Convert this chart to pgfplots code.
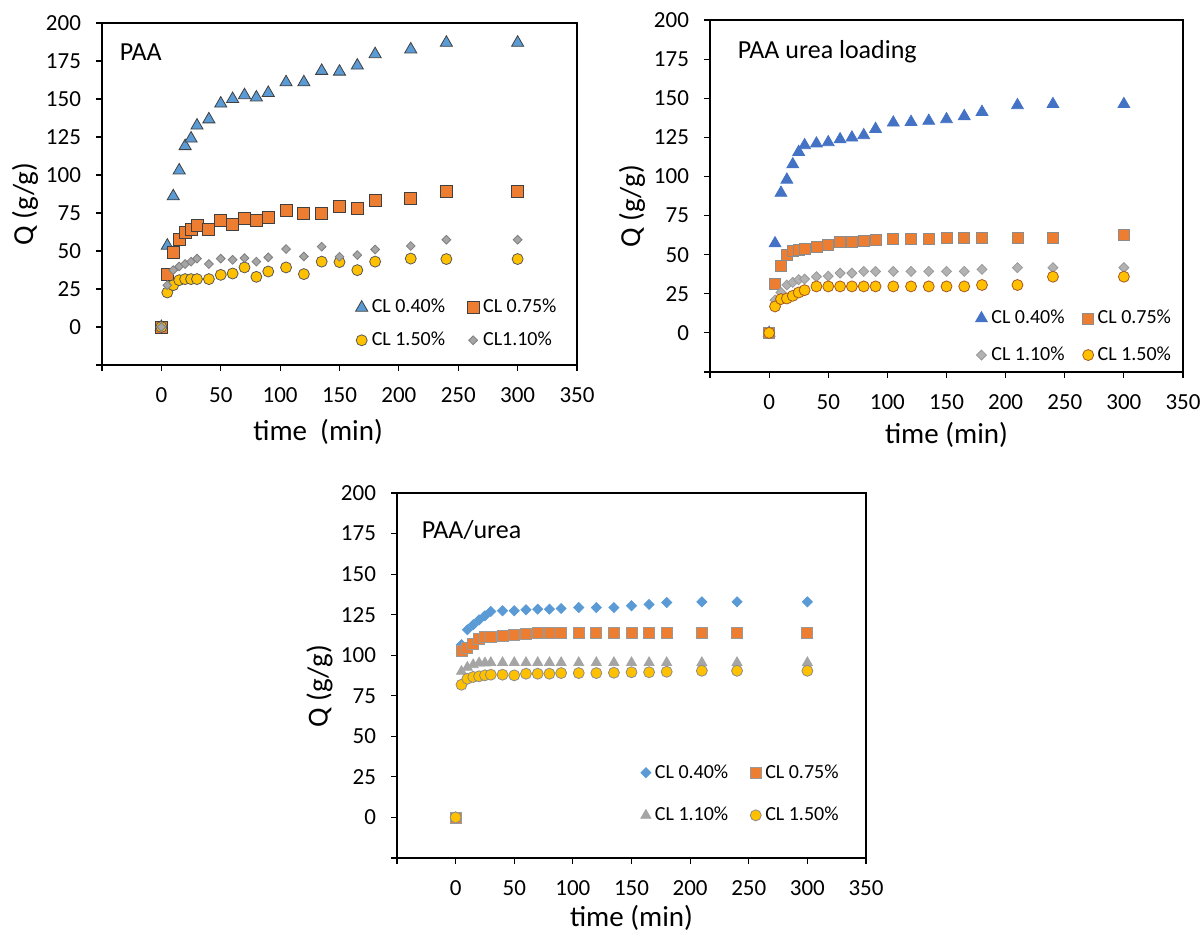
\documentclass[border=0pt]{standalone}
\usepackage{fontspec}
\setmainfont{Carlito}
\usepackage{pgfplots}
\usepackage{pgfplotstable}
\pgfplotsset{compat=1.18}
\definecolor{cblue}{HTML}{5B9BD5}
\definecolor{cdblue}{HTML}{4472C4}
\definecolor{corange}{HTML}{ED7D31}
\definecolor{cgray}{HTML}{A5A5A5}
\definecolor{cgold}{HTML}{FFC000}

\pgfplotstableread{
t a b c d
0 0 0 0 0
5 53.5 34.8 22.7 27.5
10 86 49 27.5 37.4
15 103 57.4 30.8 39.8
20 119 62 31.5 41.4
25 124 64.4 31.5 43
30 132.5 66.7 31.5 45
40 136.6 64.4 31.5 41.4
50 147 70 34.3 45
60 150 67.8 35.2 44.2
70 152.5 71.5 39.2 45.3
80 151 70 33 43
90 154 72 36.5 45.8
105 161 76.6 39.2 51.3
120 161 74.8 34.8 46.4
135 168.5 74.8 43 52.8
150 168 79.4 42.7 46.2
165 172 78 37.4 47.3
180 179.5 83.6 43 51
210 182.6 84.7 45 53.3
240 187 89.3 44.7 57.4
300 187 89.3 44.7 57.4
}\tabA

\pgfplotstableread{
t a b c d
0 0 0 0 0
5 57.2 31.6 21 16.9
10 89.5 42.5 25.8 21.6
15 97.9 49.8 30.6 22
20 107.7 52.6 32.3 23.7
25 115.6 53.2 34 25.8
30 119.9 54 34.4 27.3
40 121 55.1 35.9 29.7
50 121.8 56.2 36.3 29.7
60 123.7 57.9 38.2 29.7
70 124.8 57.9 38.2 29.7
80 126.3 58.5 39.3 29.7
90 130.3 59.2 39.3 29.7
105 134.4 59.8 39.3 29.7
120 134.8 59.8 39.3 29.7
135 135.5 59.8 39.3 29.7
150 136.5 60.9 39.3 29.7
165 138.5 60.9 39.3 29.7
180 141.2 60.9 40.6 30.6
210 145.5 60.9 41.7 30.6
240 146.2 60.9 41.7 35.9
300 146.2 62.6 41.7 35.9
}\tabB

\pgfplotstableread{
t a b c d
0 0 0 0 0
5 106.5 102.4 90 81.8
10 115.7 104.4 92.5 85.5
15 118.8 106.9 94.1 86.6
20 121.8 110.2 95.2 87
25 124.3 111 95.2 87.6
30 127 111.6 95.4 88
40 127.4 112 95.4 88
50 127.4 112.6 95.4 87.6
60 128 113.2 95.4 88.6
70 128.4 113.6 95.4 88.6
80 128.4 114 95.4 88.6
90 128.8 114 95.4 89
105 129.4 114 95.4 89
120 129.4 114 95.4 89
135 129.4 114 95.4 89.2
150 130.5 114 95.4 89.5
165 131.3 114 95.4 89.5
180 132.5 114 95.4 89.8
210 132.9 114 95.4 90.4
240 132.9 114 95.4 90.4
300 132.9 114 95.4 90.4
}\tabC

\pgfplotsset{
  myaxis/.style={
    scale only axis,
    xmin=-50, xmax=350, ymin=-25, ymax=200,
    xtick={-50,0,50,...,350}, xticklabels={,0,50,100,150,200,250,300,350},
    ytick={-25,0,25,...,200}, yticklabels={,0,25,50,75,100,125,150,175,200},
    tick align=outside, tick pos=left, major tick length=3pt,
    tick style={black, line width=0.6pt},
    axis line style={line width=0.6pt},
    ticklabel style={font=\fontsize{11.5}{13}\selectfont},
    xticklabel style={yshift=-5pt},
    yticklabel style={xshift=-4pt},
    label style={font=\fontsize{14.5}{17}\selectfont},
    legend columns=2,
    legend cell align=left,
    legend style={draw=none, fill=none, inner sep=0pt,
      font=\fontsize{10}{12}\selectfont},
    clip=false,
  },
  pt/.style={only marks, mark options={line width=0.4pt},
    legend image code/.code={\draw[##1] plot coordinates {(0pt,0pt)};}},
}

\begin{document}
\begin{tikzpicture}
% ---------- Panel 1: PAA ----------
\begin{axis}[myaxis, at={(51pt,283.5pt)}, anchor=south west,
  width=237.5pt, height=171pt,
  xlabel={time\ \ (min)}, ylabel={Q (g/g)},
  xlabel style={at={(axis description cs:0.455,-0.196)}, anchor=center},
  ylabel style={at={(axis description cs:-0.162,0.47)}, anchor=center},
  legend style={at={(axis description cs:0.966,0.035)}, anchor=south east,
    /tikz/row sep=4pt, /tikz/every even column/.append style={column sep=9pt}}]
\addplot[pt, mark=triangle*, mark size=3.5pt, mark options={fill=cblue, draw=black!75}] table[x=t,y=a]{\tabA};
\addlegendentry{CL 0.40\%}
\addplot[pt, mark=square*, mark size=3pt, mark options={fill=corange, draw=black!75}] table[x=t,y=b]{\tabA};
\addlegendentry{CL 0.75\%}
\addplot[pt, mark=*, mark size=2.75pt, mark options={fill=cgold, draw=black!65}] table[x=t,y=c]{\tabA};
\addlegendentry{CL 1.50\%}
\addplot[pt, mark=square*, mark size=1.55pt, mark options={rotate=45, fill=cgray, draw=black!50}] table[x=t,y=d]{\tabA};
\addlegendentry{CL1.10\%}
\node[anchor=west, font=\fontsize{13}{15}\selectfont] at (axis description cs:0.023,0.915) {PAA};
\end{axis}

% ---------- Panel 2: PAA urea loading ----------
\begin{axis}[myaxis, at={(355pt,280pt)}, anchor=south west,
  width=236.5pt, height=176pt,
  xlabel={time (min)}, ylabel={Q (g/g)},
  xlabel style={at={(axis description cs:0.5,-0.179)}, anchor=center},
  ylabel style={at={(axis description cs:-0.165,0.47)}, anchor=center},
  legend style={at={(axis description cs:0.984,0.012)}, anchor=south east,
    /tikz/row sep=6pt, /tikz/every even column/.append style={column sep=7pt}}]
\addplot[pt, mark=triangle*, mark size=3.4pt, mark options={fill=cdblue, draw=cdblue}] table[x=t,y=a]{\tabB};
\addlegendentry{CL 0.40\%}
\addplot[pt, mark=square*, mark size=2.75pt, mark options={fill=corange, draw=black!45}] table[x=t,y=b]{\tabB};
\addlegendentry{CL 0.75\%}
\addplot[pt, mark=square*, mark size=1.77pt, mark options={rotate=45, fill=cgray!85, draw=black!40}] table[x=t,y=c]{\tabB};
\addlegendentry{CL 1.10\%}
\addplot[pt, mark=*, mark size=2.75pt, mark options={fill=cgold, draw=corange!70!black}] table[x=t,y=d]{\tabB};
\addlegendentry{CL 1.50\%}
\node[anchor=west, font=\fontsize{13}{15}\selectfont] at (axis description cs:0.044,0.909) {PAA urea loading};
\end{axis}

% ---------- Panel 3: PAA/urea ----------
\begin{axis}[myaxis, at={(198.5pt,37pt)}, anchor=south west,
  width=234.5pt, height=182.5pt,
  xlabel={time (min)}, ylabel={Q (g/g)},
  xlabel style={at={(axis description cs:0.5,-0.163)}, anchor=center},
  ylabel style={at={(axis description cs:-0.165,0.47)}, anchor=center},
  legend style={at={(axis description cs:0.951,0.082)}, anchor=south east,
    /tikz/row sep=9pt, /tikz/every even column/.append style={column sep=9pt}}]
\addplot[pt, mark=square*, mark size=1.77pt, mark options={rotate=45, fill=cblue, draw=cblue}] table[x=t,y=a]{\tabC};
\addlegendentry{CL 0.40\%}
\addplot[pt, mark=square*, mark size=2.75pt, mark options={fill=corange, draw=black!40}] table[x=t,y=b]{\tabC};
\addlegendentry{CL 0.75\%}
\addplot[pt, mark=triangle*, mark size=2.9pt, mark options={fill=cgray, draw=cgray}] table[x=t,y=c]{\tabC};
\addlegendentry{CL 1.10\%}
\addplot[pt, mark=*, mark size=2.75pt, mark options={fill=cgold, draw=black!45}] table[x=t,y=d]{\tabC};
\addlegendentry{CL 1.50\%}
\node[anchor=west, font=\fontsize{13}{15}\selectfont] at (axis description cs:0.038,0.899) {PAA/urea};
\end{axis}
\pgfresetboundingbox
\useasboundingbox (0,0) rectangle (602pt,466pt);
\end{tikzpicture}
\end{document}
